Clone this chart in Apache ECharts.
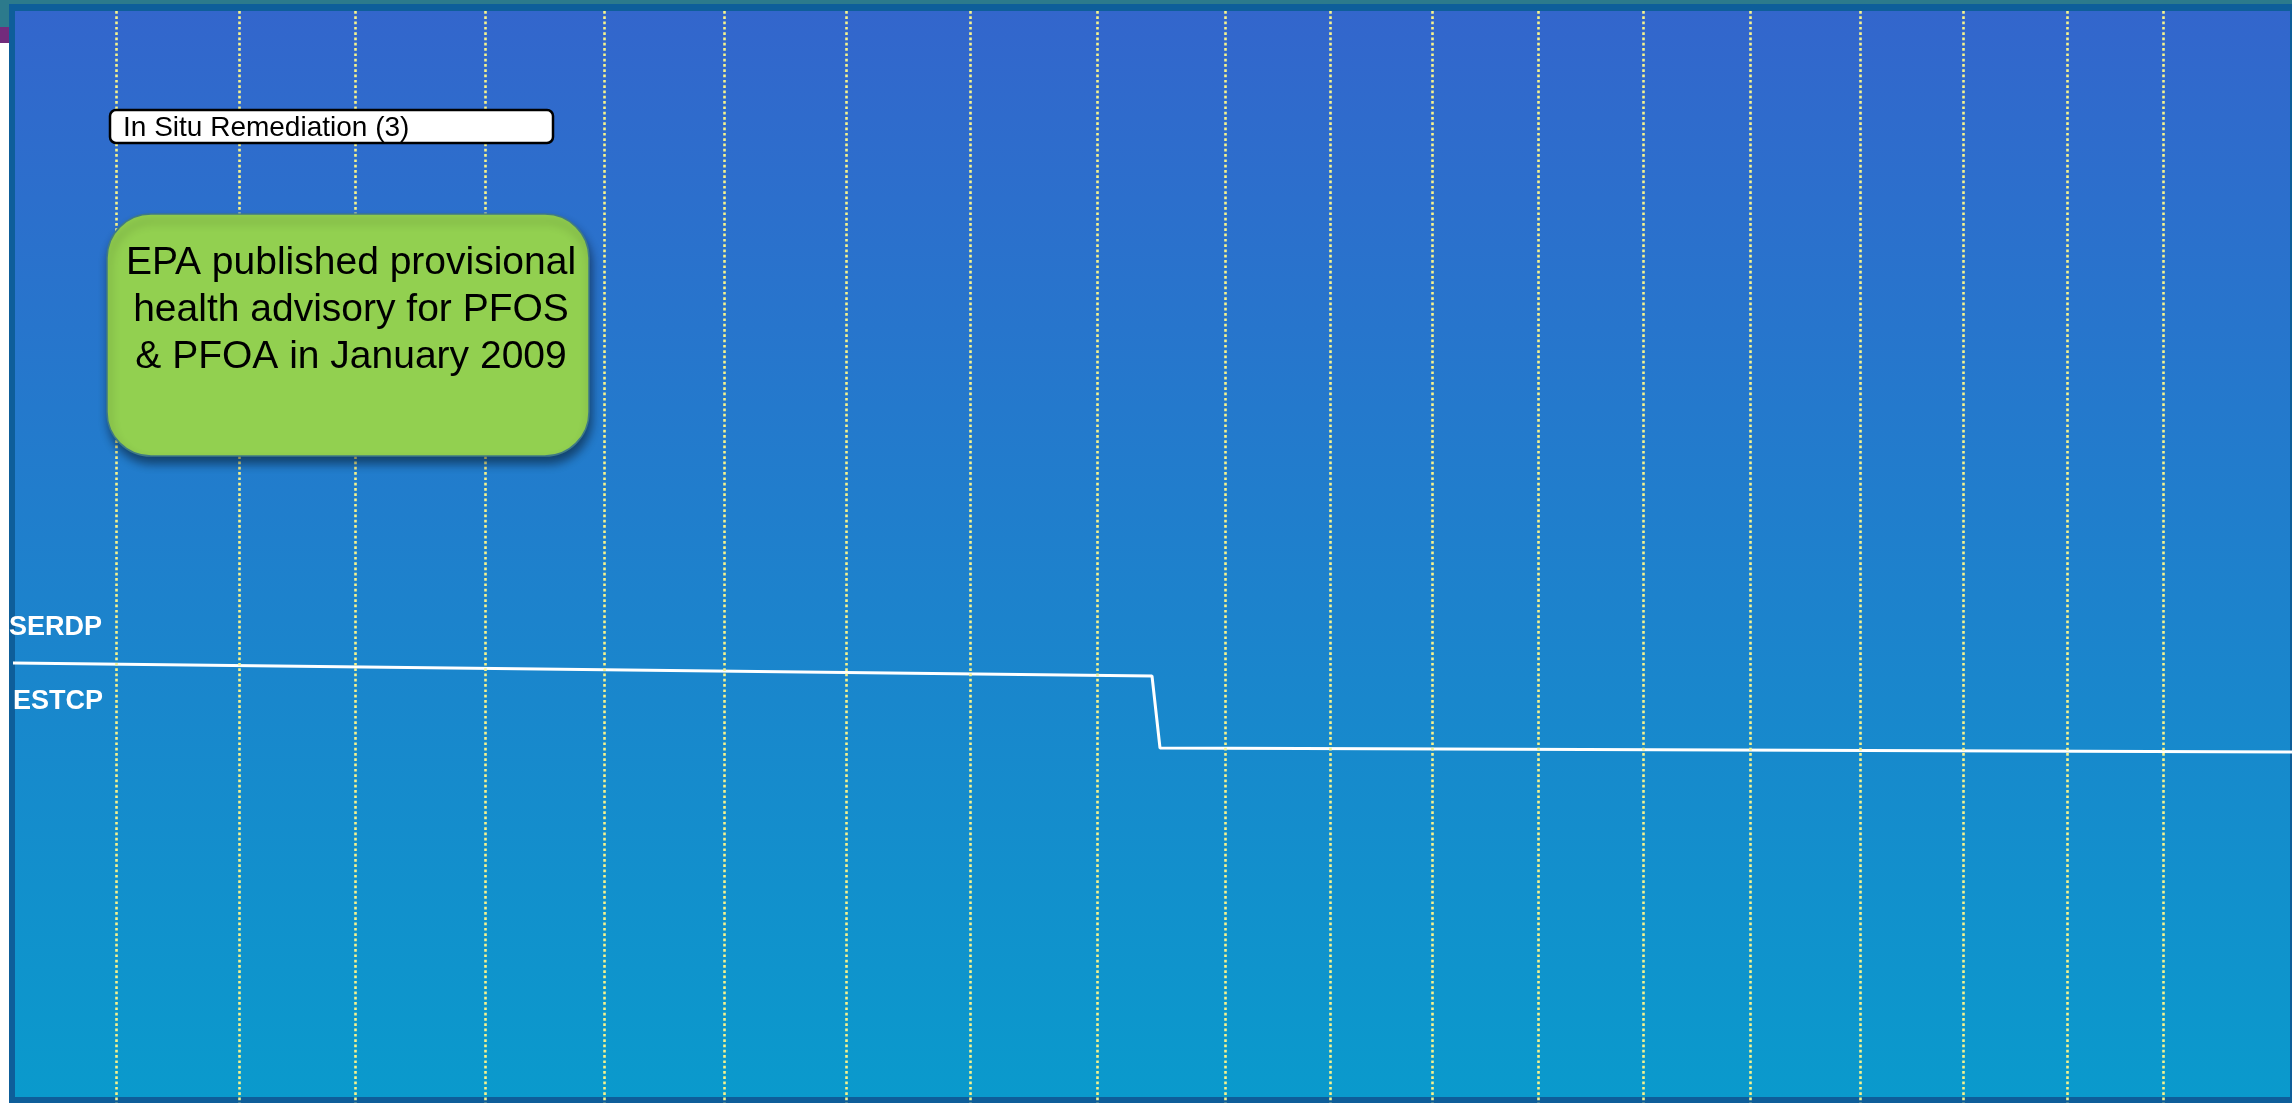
<!DOCTYPE html>
<html>
<head>
<meta charset="utf-8">
<title>SERDP / ESTCP timeline</title>
<script src="https://cdn.jsdelivr.net/npm/echarts@6/dist/echarts.min.js"></script>
<style>
  html, body { margin: 0; padding: 0; background: #ffffff; }
  #my_chart { width: 2292px; height: 1103px; }
</style>
</head>
<body>
<div id="my_chart"></div>
<script>
// slide units: x 0..2292, y 0..1103 (y grows downward)
var dividerX = [116, 239, 355, 485, 604, 724, 846, 970, 1097, 1225, 1330, 1432, 1538, 1643, 1750, 1860, 1963, 2067, 2163];

// SERDP / ESTCP boundary line
var boundaryX = [12, 1152, 1160, 2292];
var boundaryY = [663, 676, 748, 752];

var laneLabels = ['SERDP', 'ESTCP'];
var boxTitle = 'In Situ Remediation (3)';
var noteLines = ['EPA published provisional', 'health advisory for PFOS', '& PFOA in January 2009'];

var FONT = '"Liberation Sans", Arial, Helvetica, sans-serif';

var boundaryData = boundaryX.map(function (x, i) {
    return [x, boundaryY[i]];
});

var myChart = echarts.init(document.getElementById('my_chart'));

var option = {
    animation: false,
    backgroundColor: '#ffffff',
    grid: {left: 15, right: 2, top: 11, bottom: 0},
    xAxis: {
        type: 'value', min: 15, max: 2290,
        show: false, splitLine: {show: false}
    },
    yAxis: {
        type: 'value', min: 11, max: 1103, inverse: true,
        show: false, splitLine: {show: false}
    },
    graphic: [
        // frame / background
        {type: 'rect', z: 0, shape: {x: 0, y: 0, width: 2292, height: 28}, style: {fill: '#2C7A8C'}},
        {type: 'rect', z: 0, shape: {x: 0, y: 27, width: 9, height: 16}, style: {fill: '#722B7C'}},
        {type: 'rect', z: 0, shape: {x: 9, y: 4, width: 2283, height: 1099}, style: {fill: '#0E5E9A'}},
        {
            type: 'rect', z: 0,
            shape: {x: 15, y: 11, width: 2275, height: 1086},
            style: {
                fill: new echarts.graphic.LinearGradient(0, 0, 0, 1, [
                    {offset: 0, color: '#3366CC'},
                    {offset: 1, color: '#0A9ACC'}
                ])
            }
        },
        // title box
        {
            type: 'rect', z: 100,
            shape: {x: 110, y: 110, width: 443, height: 33, r: 6},
            style: {fill: '#ffffff', stroke: '#000000', lineWidth: 2.5}
        },
        {
            type: 'text', z: 101, x: 123, y: 128,
            style: {text: boxTitle, font: '28px ' + FONT, fill: '#000000', textAlign: 'left', textVerticalAlign: 'middle'}
        },
        // green note
        {
            type: 'rect', z: 100,
            shape: {x: 107, y: 214, width: 482, height: 242, r: 44},
            style: {
                fill: '#92D050', stroke: '#3F7A86', lineWidth: 1.5,
                shadowBlur: 10, shadowOffsetX: 2, shadowOffsetY: 7, shadowColor: 'rgba(0,0,0,0.45)'
            }
        },
        {
            type: 'text', z: 101, x: 351, y: 310,
            style: {
                text: noteLines.join('\n'), font: '39px ' + FONT, lineHeight: 47,
                fill: '#000000', textAlign: 'center', textVerticalAlign: 'middle'
            }
        },
        // lane labels
        {
            type: 'text', z: 101, x: 9, y: 628,
            style: {text: laneLabels[0], font: 'bold 27px ' + FONT, fill: '#ffffff', textAlign: 'left', textVerticalAlign: 'middle'}
        },
        {
            type: 'text', z: 101, x: 13, y: 702,
            style: {text: laneLabels[1], font: 'bold 27px ' + FONT, fill: '#ffffff', textAlign: 'left', textVerticalAlign: 'middle'}
        }
    ],
    series: [
        {
            name: 'boundary',
            type: 'line',
            z: 3,
            symbol: 'none',
            silent: true,
            clip: false,
            lineStyle: {color: '#ffffff', width: 3},
            data: boundaryData
        },
        {
            name: 'dividers',
            type: 'line',
            z: 4,
            symbol: 'none',
            silent: true,
            data: [],
            markLine: {
                silent: true,
                symbol: ['none', 'none'],
                label: {show: false},
                lineStyle: {color: '#F7F38C', width: 2.6, type: [2.7, 2.6], opacity: 1},
                emphasis: {disabled: true},
                data: dividerX.map(function (x) {
                    return {xAxis: x};
                })
            }
        }
    ]
};

myChart.setOption(option);
</script>
</body>
</html>
